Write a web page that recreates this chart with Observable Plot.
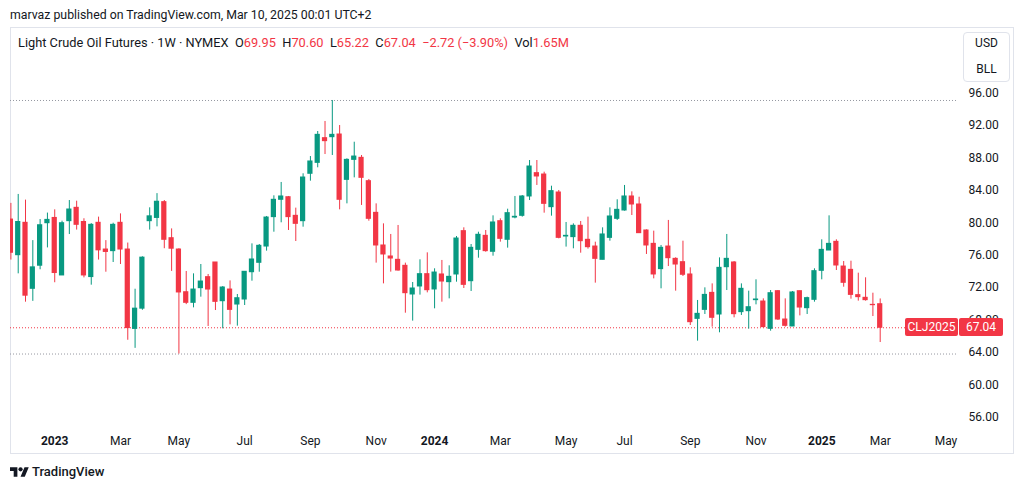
<!DOCTYPE html>
<html>
<head>
<meta charset="utf-8">
<script src="https://cdn.jsdelivr.net/npm/d3@7"></script>
<script src="https://cdn.jsdelivr.net/npm/@observablehq/plot@0.6"></script>
<style>
  html, body { margin: 0; padding: 0; background: #fff; }
  body { font-family: Roboto, "Liberation Sans", sans-serif; color: #131722; }
  #wrap { position: relative; width: 1024px; height: 490px; overflow: hidden; }
  #chart { position: absolute; left: 0; top: 0; }
  .abs { position: absolute; white-space: nowrap; }
  #border { position: absolute; left: 10px; top: 27px; width: 1004px; height: 427px; border: 1px solid #e0e3eb; box-sizing: border-box; }
  #pub { left: 10px; top: 6px; font-size: 12.3px; line-height: 18px; }
  #legend { left: 18px; top: 34px; font-size: 12.8px; line-height: 18px; }
  #legend .v { color: #F23645; }
  #unit { left: 963px; top: 32px; width: 47px; height: 50px; border: 1px solid #e0e3eb; border-radius: 4px; box-sizing: border-box; font-size: 12px; text-align: center; background: #fff; }
  #unit div { position: absolute; left: 0; width: 100%; }
  .plabel { background: #F23645; color: #fff; font-size: 12px; height: 18px; line-height: 18px; text-align: center; border-radius: 2px; }
  #footer { left: 10px; top: 463px; font-size: 13px; line-height: 18px; font-weight: 500; display: flex; align-items: center; gap: 3px; }
</style>
</head>
<body>
<div id="wrap">
  <div id="border"></div>
  <div id="chart"></div>
  <div id="pub" class="abs">marvaz published on TradingView.com, Mar 10, 2025 00:01 UTC+2</div>
  <div id="legend" class="abs">Light Crude Oil Futures · 1W · NYMEX&nbsp;&nbsp;O<span class="v">69.95</span>&nbsp;&nbsp;H<span class="v">70.60</span>&nbsp;&nbsp;L<span class="v">65.22</span>&nbsp;&nbsp;C<span class="v">67.04</span>&nbsp;&nbsp;<span class="v">−2.72 (−3.90%)</span>&nbsp;&nbsp;Vol<span class="v">1.65M</span></div>
  <div id="unit" class="abs"><div style="top:3px">USD</div><div style="top:29px">BLL</div></div>
  <div id="footer" class="abs"><svg width="19" height="15" viewBox="0 0 36 28"><path fill="#131722" d="M14 22H7V11H0V4h14v18zM28 22h-8l7.5-18h8L28 22z"/><circle fill="#131722" cx="20" cy="8" r="4"/></svg><span>TradingView</span></div>
</div>
<script>
// ---- data (weekly bars) ----
const weeks = [
  "2022-11-21","2022-11-28","2022-12-05","2022-12-12","2022-12-19","2022-12-26",
  "2023-01-02","2023-01-09","2023-01-16","2023-01-23","2023-01-30","2023-02-06","2023-02-13","2023-02-20","2023-02-27",
  "2023-03-06","2023-03-13","2023-03-20","2023-03-27","2023-04-03","2023-04-10","2023-04-17","2023-04-24",
  "2023-05-01","2023-05-08","2023-05-15","2023-05-22","2023-05-29","2023-06-05","2023-06-12","2023-06-19","2023-06-26",
  "2023-07-03","2023-07-10","2023-07-17","2023-07-24","2023-07-31","2023-08-07","2023-08-14","2023-08-21","2023-08-28",
  "2023-09-04","2023-09-11","2023-09-18","2023-09-25","2023-10-02","2023-10-09","2023-10-16","2023-10-23","2023-10-30",
  "2023-11-06","2023-11-13","2023-11-20","2023-11-27","2023-12-04","2023-12-11","2023-12-18","2023-12-25",
  "2024-01-01","2024-01-08","2024-01-15","2024-01-22","2024-01-29","2024-02-05","2024-02-12","2024-02-19","2024-02-26",
  "2024-03-04","2024-03-11","2024-03-18","2024-03-25","2024-04-01","2024-04-08","2024-04-15","2024-04-22","2024-04-29",
  "2024-05-06","2024-05-13","2024-05-20","2024-05-27","2024-06-03","2024-06-10","2024-06-17","2024-06-24",
  "2024-07-01","2024-07-08","2024-07-15","2024-07-22","2024-07-29","2024-08-05","2024-08-12","2024-08-19","2024-08-26",
  "2024-09-02","2024-09-09","2024-09-16","2024-09-23","2024-09-30","2024-10-07","2024-10-14","2024-10-21","2024-10-28",
  "2024-11-04","2024-11-11","2024-11-18","2024-11-25","2024-12-02","2024-12-09","2024-12-16","2024-12-23","2024-12-30",
  "2025-01-06","2025-01-13","2025-01-20","2025-01-27","2025-02-03","2025-02-10","2025-02-17","2025-02-24","2025-03-03"
];
const opens = [
  80.4,76.0,80.0,71.85,74.7,79.95,
  80.6,73.5,80.2,81.85,80.1,73.3,80.0,76.7,76.5,
  80.0,76.7,66.9,69.4,80.2,80.6,82.55,78.1,
  76.7,71.43,70.12,71.93,73.29,75.1,70.32,71.76,69.91,
  70.53,73.9,75.06,77.07,80.7,82.84,83.16,80.86,80.2,
  86.05,87.4,90.45,90.57,90.9,85.3,87.77,88.02,85.14,
  81.23,77.2,75.84,75.43,74.69,71.15,72.14,73.66,
  71.77,73.62,72.67,73.62,78.97,72.79,76.66,78.39,76.42,
  80.2,77.9,80.65,80.86,83.25,86.13,85.96,81.93,83.74,
  78.31,78.23,79.63,77.9,77.07,75.43,78.14,80.49,
  81.52,83.25,82.26,79.05,77.4,74.28,77.07,75.55,75.14,
  73.62,68.14,69.25,71.35,68.68,74.52,75.1,68.97,69.09,
  70.45,70.28,66.91,71.56,68.06,67.2,71.56,69.46,70.49,
  74.07,76.58,77.65,74.6,74.19,71.07,70.74,69.87,69.95
];
const highs = [
  82.4,83.5,82.8,77.8,80.4,81.2,
  81.6,80.2,82.75,82.67,80.5,79.9,80.7,77.8,79.95,
  81.1,77.5,71.8,75.8,81.85,83.6,82.75,79.25,
  76.8,73.99,73.7,74.85,73.62,75.1,72.13,72.83,71.15,
  73.95,77.4,77.32,80.78,83.33,84.98,83.25,81.81,86.05,
  88.18,91.27,92.51,95.1,92.01,87.9,89.95,88.31,85.35,
  82.34,79.87,78.56,79.67,75.02,72.63,75.43,76.29,
  74.32,75.35,74.69,78.31,79.38,77.32,78.84,79.05,80.86,
  80.49,81.68,83.25,83.37,87.69,87.69,86.25,84.52,83.99,
  80.04,79.87,80.16,80.7,77.61,79.38,81.85,82.84,
  84.61,83.82,83.16,79.13,78.97,77.2,80.29,75.68,77.73,
  74.44,70.41,71.97,72.46,75.67,78.56,75.22,72.46,71.56,
  72.96,70.61,71.64,71.64,70.61,71.52,71.56,70.82,74.32,
  77.9,80.86,77.9,75.22,75.26,73.78,73.21,71.31,70.60
];
const lows = [
  75.4,73.7,70.2,70.3,74.2,76.9,
  72.6,73.5,78.55,79.1,73.2,72.3,75.4,73.9,75.1,
  74.85,65.5,64.5,69.2,79.1,79.5,76.8,74.0,
  63.8,69.9,69.5,70.82,67.2,69.17,66.91,67.4,67.24,
  69.79,72.79,73.9,76.5,78.84,80.0,79.05,77.69,79.46,
  85.14,86.79,88.43,88.31,81.6,82.34,85.55,82.14,80.2,
  75.02,72.46,73.91,74.03,68.84,67.86,71.07,71.35,
  69.38,70.2,70.61,72.67,71.89,71.52,75.63,76.37,75.88,
  77.61,76.87,80.49,80.7,82.75,84.61,81.19,80.82,78.02,
  77.0,76.79,76.25,76.75,72.55,75.43,77.73,80.29,
  81.44,80.9,78.72,76.09,73.08,71.85,74.6,71.56,73.37,
  67.32,65.39,68.68,67.12,66.42,71.64,68.27,68.56,66.87,
  69.87,67.03,66.62,67.94,67.12,67.2,68.51,68.68,70.2,
  72.96,76.58,74.11,72.05,70.57,70.33,70.33,68.43,65.22
];
const closes = [
  76.3,80.1,71.0,74.5,79.7,80.36,
  73.8,79.95,81.64,79.75,73.5,79.75,76.6,76.4,79.75,
  76.7,67.0,69.4,75.7,80.8,82.6,77.9,76.8,
  71.4,70.12,71.76,72.75,71.76,70.24,72.01,69.25,70.69,
  73.95,75.47,77.16,80.65,82.84,83.25,80.7,79.87,85.59,
  87.57,90.86,90.08,90.86,82.84,87.77,88.18,85.55,80.49,
  77.2,76.09,75.59,74.11,71.31,71.89,73.66,71.68,
  73.86,72.75,73.33,78.06,72.34,76.91,78.52,76.5,80.04,
  78.02,81.19,80.74,83.25,86.95,85.72,82.34,83.91,78.14,
  78.39,79.63,77.73,76.99,75.55,78.56,80.78,81.6,
  83.25,82.26,78.72,77.2,73.62,76.91,75.63,74.85,73.58,
  67.73,68.76,71.1,68.27,74.44,75.55,68.72,71.85,69.58,
  70.53,67.12,71.31,68.06,67.28,71.4,69.54,70.7,74.03,
  76.66,77.4,74.73,72.59,71.1,70.82,70.45,69.83,67.04
];
const priceTicks = [56, 60, 64, 68, 72, 76, 80, 84, 88, 92, 96];
const monthTicks = [
  ["2023-03-06","Mar"],["2023-05-01","May"],["2023-07-03","Jul"],["2023-09-04","Sep"],["2023-11-06","Nov"],
  ["2024-03-04","Mar"],["2024-05-06","May"],["2024-07-01","Jul"],["2024-09-02","Sep"],["2024-11-04","Nov"],
  ["2025-03-03","Mar"],["2025-05-05","May"]
];
const yearTicks = [["2023-01-02","2023"],["2024-01-01","2024"],["2025-01-06","2025"]];
const symbol = "CLJ2025";

// ---- build ----
const up = "#089981", down = "#F23645";
const bars = weeks.map((w, i) => ({date: new Date(w), open: opens[i], high: highs[i], low: lows[i], close: closes[i]}));
const colorOf = d => d.close >= d.open ? up : down;
const half = 2.5 * 864e5;
const mLab = new Map(monthTicks.map(([d, l]) => [+new Date(d), l]));
const yLab = new Map(yearTicks.map(([d, l]) => [+new Date(d), l]));
const last = bars[bars.length - 1];

const chart = Plot.plot({
  width: 1024,
  height: 490,
  marginTop: 27,
  marginRight: 67,
  marginBottom: 62,
  marginLeft: 10,
  style: {fontFamily: "Roboto, 'Liberation Sans', sans-serif", fontSize: "12px", color: "#131722", background: "transparent", overflow: "visible"},
  x: {type: "utc", domain: [bars[0].date, last.date], range: [10.4, 879.7]},
  y: {type: "linear", domain: [56, 96], range: [416.7, 92.7]},
  color: {type: "identity"},
  marks: [
    Plot.ruleY([d3.max(highs), d3.min(lows)], {stroke: "#9598a1", strokeDasharray: "1,2", strokeWidth: 1}),
    Plot.ruleY([last.close], {stroke: down, strokeDasharray: "1,2", strokeWidth: 1}),
    Plot.ruleX(bars, {x: "date", y1: "low", y2: "high", stroke: colorOf, strokeWidth: 1, clip: "frame"}),
    Plot.rect(bars, {
      x1: d => new Date(+d.date - half), x2: d => new Date(+d.date + half),
      y1: "open", y2: "close", fill: colorOf, insetTop: -0.5, insetBottom: -0.5, clip: "frame"
    }),
    Plot.axisY(priceTicks, {anchor: "right", tickSize: 0, tickPadding: 11, tickFormat: d => d.toFixed(2), fill: "#131722", fontSize: 12}),
    Plot.axisX(monthTicks.map(([d]) => new Date(d)), {anchor: "bottom", tickSize: 0, tickPadding: 8, tickFormat: d => mLab.get(+d), fill: "#131722", fontSize: 12}),
    Plot.axisX(yearTicks.map(([d]) => new Date(d)), {anchor: "bottom", tickSize: 0, tickPadding: 8, tickFormat: d => yLab.get(+d), fill: "#131722", fontSize: 12, fontWeight: "bold"})
  ]
});
document.getElementById("chart").appendChild(chart);

// price label on the price scale, positioned with the chart's own y scale
const yPos = chart.scale("y").apply(last.close);
const wrap = document.getElementById("wrap");
const l1 = document.createElement("div");
l1.className = "abs plabel";
l1.style.cssText = `left:905px;top:${yPos - 9}px;width:53px;`;
l1.textContent = symbol;
const l2 = document.createElement("div");
l2.className = "abs plabel";
l2.style.cssText = `left:959px;top:${yPos - 9}px;width:44px;`;
l2.textContent = last.close.toFixed(2);
wrap.appendChild(l1);
wrap.appendChild(l2);
</script>
</body>
</html>
